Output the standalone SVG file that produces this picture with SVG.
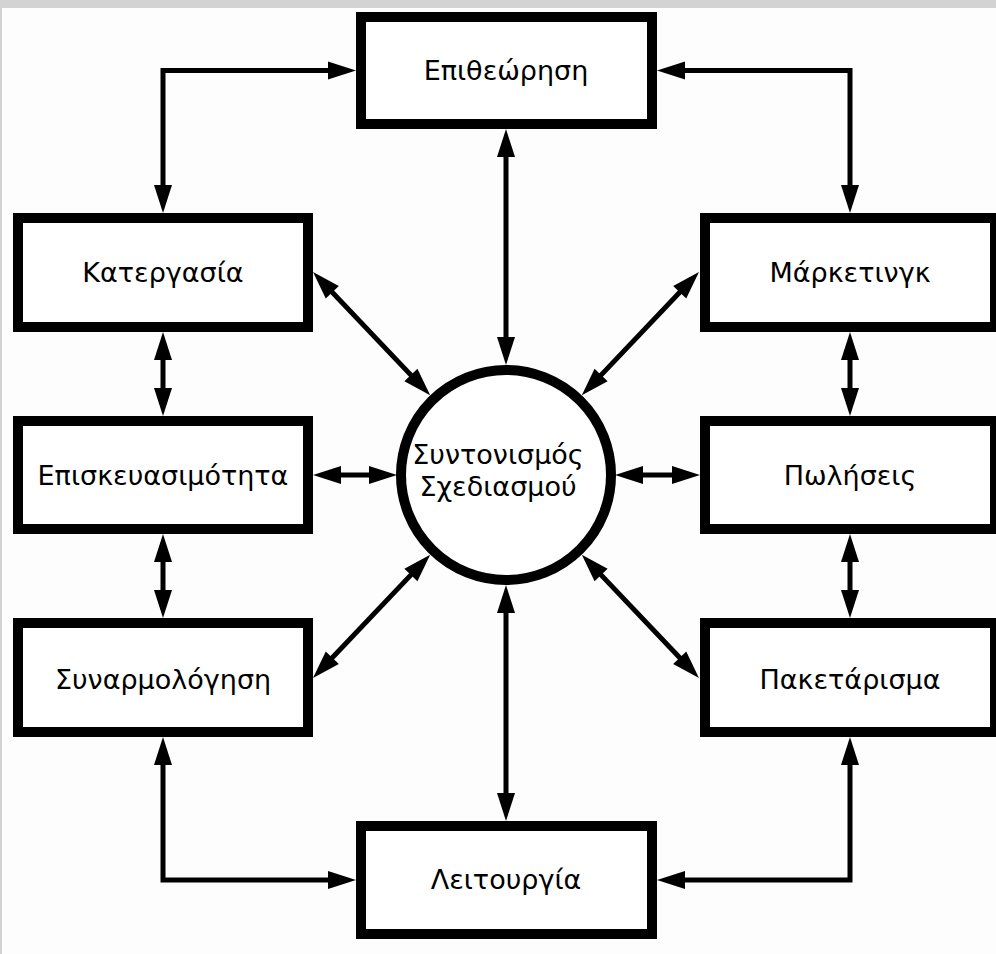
<svg xmlns="http://www.w3.org/2000/svg" width="996" height="954" viewBox="0 0 996 954">
<style>
.box{fill:#fff;stroke:#000;stroke-width:10}
.lbl{font-family:"DejaVu Sans","Liberation Sans",sans-serif;font-size:27px;fill:#000;text-anchor:middle}
.conn{fill:none;stroke:#000;stroke-width:5;marker-start:url(#ah);marker-end:url(#ah)}
</style>
<defs>
<marker id="ah" markerUnits="userSpaceOnUse" markerWidth="28" markerHeight="18" refX="18" refY="9" orient="auto-start-reverse" overflow="visible">
<path d="M0,0 L28,9 L0,18 Z" fill="#000"/>
</marker>
</defs>
<rect x="0" y="0" width="996" height="954" fill="#fdfdfd"/>
<rect x="0" y="0" width="996" height="8" fill="#d3d3d3"/>
<rect x="0" y="0" width="2" height="954" fill="#d3d3d3"/>

<g id="connectors">
<line class="conn" x1="506" y1="139" x2="506" y2="355"/>
<line class="conn" x1="506" y1="595" x2="506" y2="811"/>
<line class="conn" x1="323" y1="475" x2="387" y2="475"/>
<line class="conn" x1="625" y1="475" x2="690" y2="475"/>
<line class="conn" x1="163" y1="342" x2="163" y2="406"/>
<line class="conn" x1="163" y1="544" x2="163" y2="608"/>
<line class="conn" x1="850" y1="342" x2="850" y2="406"/>
<line class="conn" x1="850" y1="544" x2="850" y2="608"/>
<polyline class="conn" points="163,203 163,70.5 346,70.5"/>
<polyline class="conn" points="667,70.5 850,70.5 850,203"/>
<polyline class="conn" points="163,747 163,880 346,880"/>
<polyline class="conn" points="667,880 850,880 850,747"/>
<line class="conn" x1="319.9" y1="279.2" x2="423.3" y2="388.1"/>
<line class="conn" x1="692.1" y1="279.2" x2="588.7" y2="388.1"/>
<line class="conn" x1="319.9" y1="670.8" x2="423.3" y2="561.9"/>
<line class="conn" x1="692.1" y1="670.8" x2="588.7" y2="561.9"/>
</g>

<g id="n-epitheorisi"><rect class="box" x="361" y="17" width="291" height="107"/><text class="lbl" x="506" y="80">Επιθεώρηση</text></g>
<g id="n-katergasia"><rect class="box" x="18" y="218" width="290" height="109"/><text class="lbl" x="163" y="282">Κατεργασία</text></g>
<g id="n-episkevasimotita"><rect class="box" x="18" y="421" width="290" height="108"/><text class="lbl" x="163" y="485">Επισκευασιμότητα</text></g>
<g id="n-synarmologisi"><rect class="box" x="18" y="623" width="290" height="109"/><text class="lbl" x="163" y="689">Συναρμολόγηση</text></g>
<g id="n-marketingk"><rect class="box" x="705" y="218" width="290" height="109"/><text class="lbl" x="850" y="282">Μάρκετινγκ</text></g>
<g id="n-poliseis"><rect class="box" x="705" y="421" width="290" height="108"/><text class="lbl" x="850" y="485">Πωλήσεις</text></g>
<g id="n-paketarisma"><rect class="box" x="705" y="623" width="290" height="109"/><text class="lbl" x="850" y="689">Πακετάρισμα</text></g>
<g id="n-leitourgia"><rect class="box" x="361" y="826" width="291" height="108"/><text class="lbl" x="506" y="889">Λειτουργία</text></g>
<g id="n-syntonismos"><circle cx="506" cy="475" r="105" fill="#fff" stroke="#000" stroke-width="10"/><text class="lbl" x="498" y="464">Συντονισμός</text><text class="lbl" x="498" y="496">Σχεδιασμού</text></g>
</svg>
